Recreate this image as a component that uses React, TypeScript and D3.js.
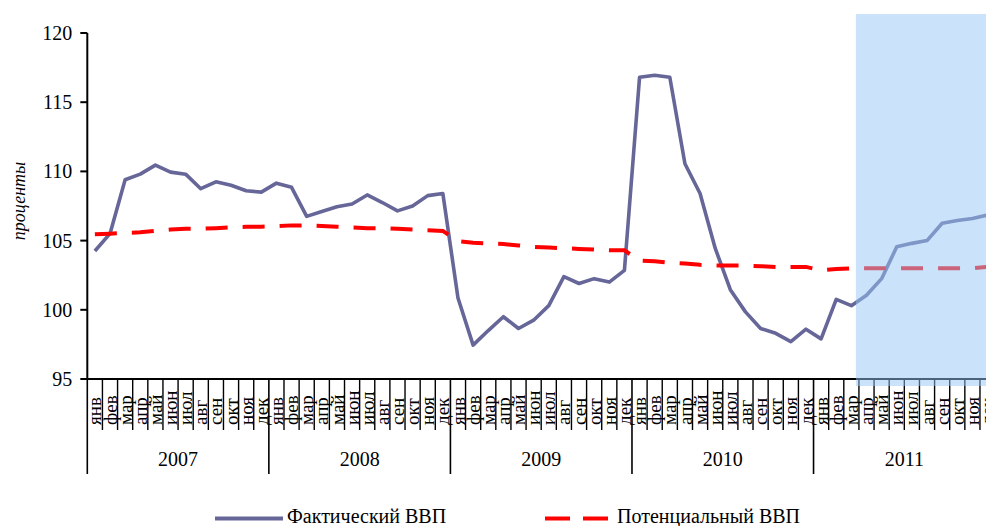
import React from "react";
import * as d3 from "d3";

const months = ["янв", "фев", "мар", "апр", "май", "июн", "июл", "авг", "сен", "окт", "ноя", "дек"];
const years = ["2007", "2008", "2009", "2010", "2011"];
const yTicks = [95, 100, 105, 110, 115, 120];

const actualGDP = [
  104.25, 105.5, 109.4, 109.8, 110.45, 109.95, 109.8, 108.75, 109.25, 109.0, 108.6, 108.5,
  109.15, 108.85, 106.75, 107.1, 107.45, 107.65, 108.3, 107.75, 107.15, 107.5, 108.25, 108.4,
  100.85, 97.45, 98.5, 99.5, 98.65, 99.25, 100.3, 102.4, 101.9, 102.25, 102.0, 102.85,
  116.8, 116.95, 116.8, 110.55, 108.4, 104.45, 101.45, 99.85, 98.65, 98.3, 97.7, 98.6,
  97.9, 100.75, 100.3, 101.05, 102.25, 104.55, 104.8, 105.0, 106.25, 106.45, 106.6, 106.85,
];

const potentialGDP = [
  105.45, 105.5, 105.55, 105.6, 105.7, 105.8, 105.85, 105.85, 105.9, 105.95, 106.0, 106.0,
  106.05, 106.1, 106.1, 106.05, 106.0, 105.95, 105.9, 105.9, 105.85, 105.8, 105.75, 105.7,
  104.95, 104.85, 104.8, 104.75, 104.65, 104.55, 104.5, 104.45, 104.4, 104.35, 104.3, 104.3,
  103.55, 103.5, 103.4, 103.35, 103.25, 103.2, 103.2, 103.2, 103.15, 103.1, 103.1, 103.1,
  102.85, 102.95, 103.0, 103.0, 103.0, 103.0, 103.0, 103.0, 103.0, 103.0, 103.0, 103.1,
];

const seriesNames = ["Фактический ВВП", "Потенциальный ВВП"];
const yTitle = "проценты";
// forecast shading starts shortly before April 2011 (month index)
const shadeStartIndex = 50.8;

const categories = years.flatMap((y) => months.map((m) => `${y}-${m}`));

const FONT = "'Liberation Serif', 'DejaVu Serif', serif";
const BLUE = "#666699";
const RED = "#ff0000";
const textStyle = { fontFamily: FONT };

export default function App() {
  const W = 986;
  const H = 526;
  const left = 87.3;
  const step = 15.13;
  const right = left + step * categories.length;
  const top = 33;
  const bottom = 379;

  const x = d3.scaleBand<string>().domain(categories).range([left, right]).paddingInner(0).paddingOuter(0);
  const xIdx = d3.scaleLinear().domain([0, categories.length]).range([left, right]);
  const y = d3.scaleLinear().domain([95, 120]).range([bottom, top]);

  const cx = (i: number) => (x(categories[i]) as number) + x.bandwidth() / 2;
  const line = d3
    .line<number>()
    .x((_, i) => cx(i))
    .y((d) => y(d));

  const boundaries = d3.range(categories.length + 1);

  return (
    <div style={{ position: "absolute", left: 0, top: 0, width: W, height: H }}>
      <svg width={W} height={H} style={{ display: "block", background: "#fff" }}>
        {/* y axis */}
        <line x1={left} x2={left} y1={top} y2={bottom} stroke="#000" strokeWidth={2} />
        {yTicks.map((t) => (
          <g key={t}>
            <line x1={left - 7} x2={left} y1={y(t)} y2={y(t)} stroke="#000" strokeWidth={2} />
            <text x={left - 15} y={y(t)} textAnchor="end" dominantBaseline="central" fontSize={20} fill="#000" style={textStyle}>
              {t}
            </text>
          </g>
        ))}
        <text
          transform={`translate(19,201) rotate(-90)`}
          textAnchor="middle"
          dominantBaseline="central"
          fontSize={18}
          fontStyle="italic"
          fill="#000"
          style={textStyle}
        >
          {yTitle}
        </text>

        {/* x axis */}
        <line x1={left - 1} x2={right} y1={bottom} y2={bottom} stroke="#000" strokeWidth={2} />
        {boundaries.map((i) => {
          const xx = xIdx(i);
          const isYear = i % 12 === 0;
          return (
            <line
              key={i}
              x1={xx}
              x2={xx}
              y1={bottom}
              y2={isYear ? 474 : 430}
              stroke="#000"
              strokeWidth={isYear ? 1.6 : 1.4}
            />
          );
        })}
        {categories.map((c, i) => (
          <text
            key={c}
            transform={`translate(${xIdx(i + 1) - 1},425) rotate(-90)`}
            textAnchor="start"
            fontSize={19}
            fill="#000"
            style={textStyle}
          >
            {months[i % 12]}
          </text>
        ))}
        {years.map((yr, k) => (
          <text key={yr} x={(xIdx(k * 12) + xIdx(k * 12 + 12)) / 2} y={466} textAnchor="middle" fontSize={20} fill="#000" style={textStyle}>
            {yr}
          </text>
        ))}

        {/* series */}
        <path d={line(actualGDP) || ""} fill="none" stroke={BLUE} strokeWidth={3.6} strokeLinejoin="round" />
        <path
          d={line(potentialGDP) || ""}
          fill="none"
          stroke={RED}
          strokeWidth={4}
          strokeDasharray="22 15"
        />

        {/* forecast shading overlay */}
        <rect
          x={xIdx(shadeStartIndex)}
          y={14}
          width={right - xIdx(shadeStartIndex)}
          height={386 - 14}
          fill="rgb(150,200,245)"
          fillOpacity={0.5}
        />

        {/* legend */}
        <line x1={215} x2={283} y1={518.5} y2={518.5} stroke={BLUE} strokeWidth={4} />
        <text x={287} y={523} fontSize={20} fill="#000" style={textStyle}>
          {seriesNames[0]}
        </text>
        <line x1={545} x2={608} y1={518.5} y2={518.5} stroke={RED} strokeWidth={4} strokeDasharray="25 13" />
        <text x={617} y={523} fontSize={20} fill="#000" style={textStyle}>
          {seriesNames[1]}
        </text>
      </svg>
    </div>
  );
}
